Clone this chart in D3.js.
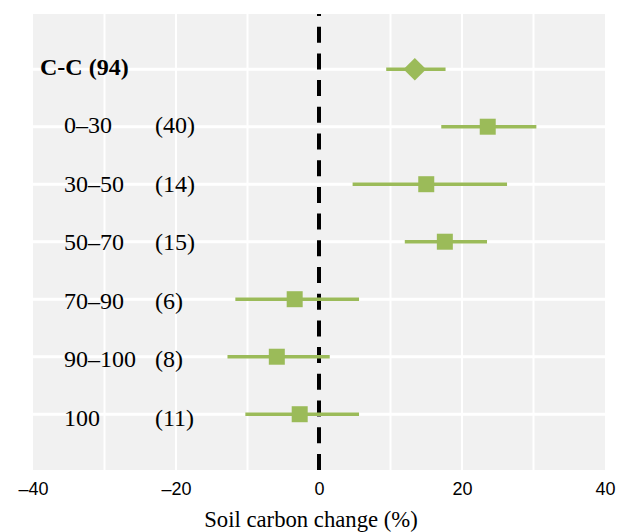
<!DOCTYPE html>
<html>
<head>
<meta charset="utf-8">
<script src="https://cdn.jsdelivr.net/npm/d3@7"></script>
<style>
  body { margin: 0; background: #fff; }
  .tick text { font-family: "Liberation Sans", Arial, sans-serif; font-size: 18px; }
</style>
</head>
<body>
<div id="chart"></div>
<script>
// data
const labels  = ["C-C (94)", "0\u201330", "30\u201350", "50\u201370", "70\u201390", "90\u2013100", "100"];
const counts  = ["", "(40)", "(14)", "(15)", "(6)", "(8)", "(11)"];
const means   = [13.4, 23.6, 15.0, 17.6, -3.4, -5.9, -2.7];
const lowers  = [9.4, 17.1, 4.7, 12.0, -11.7, -12.8, -10.3];
const uppers  = [17.7, 30.4, 26.3, 23.5, 5.6, 1.5, 5.6];
const xTicks  = [-40, -20, 0, 20, 40];
const xGrid   = [-30, -20, -10, 10, 20, 30];

const width = 630, height = 532;
const plot = { left: 33, right: 605, top: 14, bottom: 470 };
const green = "#9bbb59";
const serif = "'Liberation Serif', 'Times New Roman', serif";

const rows = labels.map((l, i) => ({
  label: l, n: counts[i], mean: means[i], lo: lowers[i], hi: uppers[i], i: i
}));

const x = d3.scaleLinear().domain([-40, 40]).range([plot.left, plot.right]);
const y = d3.scaleLinear().domain([-0.96, 6.97]).range([plot.top, plot.bottom]);
// text baselines drift a little from the row lines in the original
const yText = d3.scaleLinear().domain([0, 6]).range([74.5, 425.7]);

const svg = d3.select("#chart").append("svg")
    .attr("width", width)
    .attr("height", height);

// panel background
svg.append("rect")
    .attr("x", plot.left).attr("y", plot.top)
    .attr("width", plot.right - plot.left)
    .attr("height", plot.bottom - plot.top)
    .attr("fill", "#f1f1f1");

// grid
svg.append("g").selectAll("line")
    .data(xGrid)
    .join("line")
    .attr("x1", d => x(d)).attr("x2", d => x(d))
    .attr("y1", plot.top).attr("y2", plot.bottom)
    .attr("stroke", "#fff").attr("stroke-width", 2);

svg.append("g").selectAll("line")
    .data(rows)
    .join("line")
    .attr("x1", plot.left).attr("x2", plot.right)
    .attr("y1", d => y(d.i)).attr("y2", d => y(d.i))
    .attr("stroke", "#fff").attr("stroke-width", 3);

// zero reference
svg.append("line")
    .attr("x1", x(0)).attr("x2", x(0))
    .attr("y1", plot.top).attr("y2", plot.bottom)
    .attr("stroke", "#000").attr("stroke-width", 4)
    .attr("stroke-dasharray", "16,10.7")
    .attr("stroke-dashoffset", 14);

// labels
const lab = svg.append("g")
    .attr("font-family", serif)
    .attr("font-size", 24)
    .attr("fill", "#000");

lab.selectAll("text.name")
    .data(rows)
    .join("text")
    .attr("class", "name")
    .attr("x", d => d.i === 0 ? 40 : 64)
    .attr("y", d => yText(d.i))
    .attr("font-weight", d => d.i === 0 ? "bold" : "normal")
    .text(d => d.label);

lab.selectAll("text.n")
    .data(rows.filter(d => d.n))
    .join("text")
    .attr("class", "n")
    .attr("x", 155)
    .attr("y", d => yText(d.i))
    .text(d => d.n);

// intervals
svg.append("g").selectAll("line")
    .data(rows)
    .join("line")
    .attr("x1", d => x(d.lo)).attr("x2", d => x(d.hi))
    .attr("y1", d => y(d.i)).attr("y2", d => y(d.i))
    .attr("stroke", green).attr("stroke-width", 3.5);

// markers: diamond for the overall estimate, squares for depths
const sym = d3.symbol().type(d3.symbolSquare).size(256);
svg.append("g").selectAll("path")
    .data(rows)
    .join("path")
    .attr("transform", d => `translate(${x(d.mean)},${y(d.i)})` + (d.i === 0 ? " rotate(45)" : ""))
    .attr("d", sym)
    .attr("fill", green);

// x axis
const xAxis = svg.append("g")
    .attr("transform", `translate(0,${plot.bottom})`)
    .call(d3.axisBottom(x).tickValues(xTicks).tickSize(0).tickPadding(12)
        .tickFormat(d => d < 0 ? "\u2013" + Math.abs(d) : d));
xAxis.select(".domain").remove();
xAxis.selectAll("text").style("font-size", "18px").attr("fill", "#000");

svg.append("text")
    .attr("x", 311).attr("y", 527)
    .attr("text-anchor", "middle")
    .attr("font-family", serif)
    .attr("font-size", 22.7)
    .text("Soil carbon change (%)");
</script>
</body>
</html>
